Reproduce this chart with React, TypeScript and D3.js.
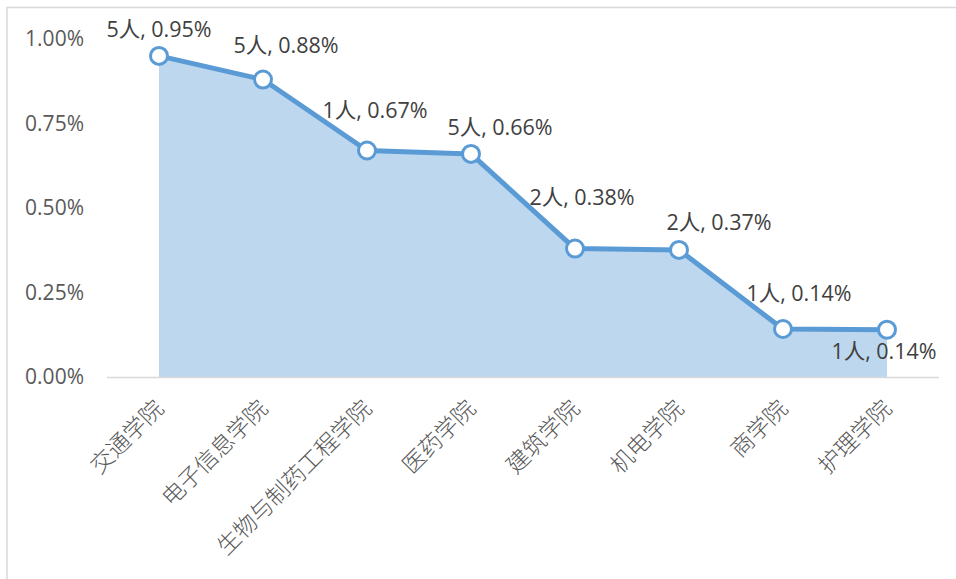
import React from "react";
import * as d3 from "d3";

const categories = ["交通学院", "电子信息学院", "生物与制药工程学院", "医药学院", "建筑学院", "机电学院", "商学院", "护理学院"];
const rates = [0.95, 0.88, 0.67, 0.66, 0.38, 0.376, 0.142, 0.14];
const counts = [5, 5, 1, 5, 2, 2, 1, 1];
const rateLabels = ["0.95%", "0.88%", "0.67%", "0.66%", "0.38%", "0.37%", "0.14%", "0.14%"];
const yTicks = [0, 0.25, 0.5, 0.75, 1.0];

// label placement offsets (layout only)
const labelDx = [0, 23, 8, 29, 7, 40, 16, -3];
const labelDy = [-19, -27, -33, -19, -44, -20, -28, 29];

const W = 956;
const H = 579;
const left = 107;
const right = 939;
const top = 39;
const bottom = 377;

export default function App() {
  const x = d3.scalePoint<string>().domain(categories).range([left, right]).padding(0.5);
  const y = d3.scaleLinear().domain([0, 1]).range([bottom, top]);

  const pts = categories.map((c, i) => [x(c) as number, y(rates[i])] as [number, number]);
  const line = d3.line<[number, number]>().x((d) => d[0]).y((d) => d[1]);
  const area = d3
    .area<[number, number]>()
    .x((d) => d[0])
    .y0(y(0))
    .y1((d) => d[1]);

  const fontLatin = '"Open Sans", "Noto Sans CJK SC", sans-serif';
  const fontCjk = '"Noto Sans CJK SC", sans-serif';

  return (
    <svg
      width={W}
      height={H}
      style={{ position: "absolute", left: 0, top: 0, background: "#fff" }}
    >
      <rect x={7} y={7.5} width={W + 20} height={H + 20} fill="#fff" stroke="#d9d9d9" strokeWidth={1.5} />
      <path d={area(pts) || ""} fill="#bdd7ee" />
      <line x1={left} x2={right} y1={y(0) + 0.5} y2={y(0) + 0.5} stroke="#d9d9d9" strokeWidth={1.5} />
      {yTicks.map((t) => (
        <text
          key={t}
          x={84}
          y={y(t) + 7}
          textAnchor="end"
          fontFamily={fontLatin}
          fontSize={21}
          fill="#595959"
        >
          {d3.format(".2%")(t / 100)}
        </text>
      ))}
      <path d={line(pts) || ""} fill="none" stroke="#5b9bd5" strokeWidth={5} strokeLinejoin="round" />
      {pts.map((p, i) => (
        <circle key={i} cx={p[0]} cy={p[1]} r={8.5} fill="#fff" stroke="#5b9bd5" strokeWidth={3} />
      ))}
      {pts.map((p, i) => (
        <text
          key={"l" + i}
          x={p[0] + labelDx[i]}
          y={p[1] + labelDy[i]}
          textAnchor="middle"
          fontFamily={fontLatin}
          fontSize={21.5}
          fill="#404040"
        >
          {`${counts[i]}人, ${rateLabels[i]}`}
        </text>
      ))}
      {categories.map((c) => {
        const cx = x(c) as number;
        return (
          <text
            key={c}
            transform={`translate(${cx + 6},${bottom + 33}) rotate(-45)`}
            textAnchor="end"
            fontFamily={fontCjk}
            fontWeight={300}
            fontSize={23}
            fill="#595959"
          >
            {c}
          </text>
        );
      })}
    </svg>
  );
}
